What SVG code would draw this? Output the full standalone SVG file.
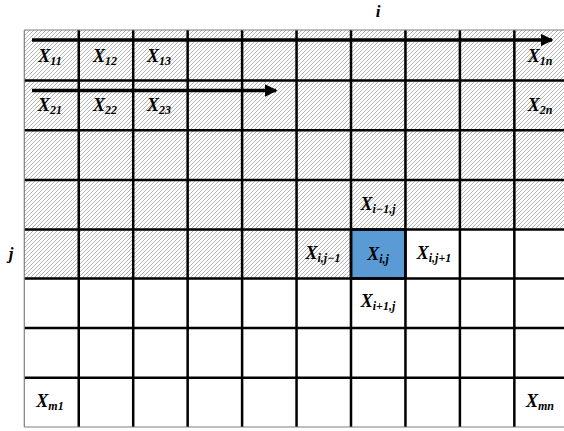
<svg xmlns="http://www.w3.org/2000/svg" width="564" height="431" viewBox="0 0 564 431">
<defs>
<pattern id="hatch" patternUnits="userSpaceOnUse" width="4" height="4">
<rect width="4" height="4" fill="#ffffff"/>
<path d="M-1,1 l2,-2 M0,4 l4,-4 M3,5 l2,-2" stroke="#9a9a9a" stroke-width="0.75"/>
</pattern>
<marker id="arr" viewBox="0 0 10 10" refX="9" refY="5" markerWidth="3.6" markerHeight="3.6" orient="auto" markerUnits="strokeWidth">
<path d="M0,0 L10,5 L0,10 z" fill="#000"/>
</marker>
<style>
.lbl{font-family:"Liberation Serif","DejaVu Serif",serif;font-weight:bold;font-style:italic;font-size:18px;fill:#000;text-anchor:middle}
.sub{font-size:12px}
.ax{font-family:"Liberation Serif","DejaVu Serif",serif;font-weight:bold;font-style:italic;font-size:17px;fill:#000;text-anchor:middle}
.grid{stroke:#000;stroke-width:2.5;fill:none}
.edge{stroke:#7f7f7f;stroke-width:1.2;fill:none}
.conn{stroke:#000;stroke-width:3.5;fill:none}
</style>
</defs>
<rect width="564" height="431" fill="#ffffff"/>
<g id="hatched-region">
<rect x="24.3" y="30" width="540" height="199.5" fill="url(#hatch)"/>
<rect x="24.3" y="229.5" width="326.7" height="49" fill="url(#hatch)"/>
</g>
<g id="cell-current">
<rect x="351" y="229.5" width="54.45" height="49" fill="#5b9bd5" stroke="#000" stroke-width="2.5"/>
<text class="lbl" x="378" y="260">X<tspan class="sub" dy="3">i,j</tspan></text>
</g>
<g id="grid">
<path class="grid" d="M78.75,30V427 M133.2,30V427 M187.65,30V427 M242.1,30V427 M296.55,30V427 M351,30V427 M405.45,30V427 M459.9,30V427 M514.35,30V427"/>
<path class="grid" d="M24.3,80.5H564 M24.3,130.3H564 M24.3,180H564 M24.3,229.5H564 M24.3,278.5H564 M24.3,328H564 M24.3,377.7H564"/>
<path class="edge" d="M24.3,30H564 M24.3,30V427 M24.3,427H564"/>
</g>
<g id="connectors">
<line class="conn" x1="32" y1="40" x2="552" y2="40" marker-end="url(#arr)"/>
<line class="conn" x1="32" y1="90.5" x2="276" y2="90.5" marker-end="url(#arr)"/>
</g>
<g id="axis-i"><text class="ax" x="378" y="17">i</text></g>
<g id="axis-j"><text class="ax" x="11" y="259">j</text></g>
<g id="cell-x11"><text class="lbl" x="50" y="62">X<tspan class="sub" dy="3">11</tspan></text></g>
<g id="cell-x12"><text class="lbl" x="105" y="62">X<tspan class="sub" dy="3">12</tspan></text></g>
<g id="cell-x13"><text class="lbl" x="159" y="62">X<tspan class="sub" dy="3">13</tspan></text></g>
<g id="cell-x1n"><text class="lbl" x="540" y="62">X<tspan class="sub" dy="3">1n</tspan></text></g>
<g id="cell-x21"><text class="lbl" x="50" y="111">X<tspan class="sub" dy="3">21</tspan></text></g>
<g id="cell-x22"><text class="lbl" x="105" y="111">X<tspan class="sub" dy="3">22</tspan></text></g>
<g id="cell-x23"><text class="lbl" x="159" y="111">X<tspan class="sub" dy="3">23</tspan></text></g>
<g id="cell-x2n"><text class="lbl" x="540" y="111">X<tspan class="sub" dy="3">2n</tspan></text></g>
<g id="cell-xim1j"><text class="lbl" x="378" y="210">X<tspan class="sub" dy="3">i−1,j</tspan></text></g>
<g id="cell-xijm1"><text class="lbl" x="323" y="259">X<tspan class="sub" dy="3">i,j−1</tspan></text></g>
<g id="cell-xijp1"><text class="lbl" x="434" y="259">X<tspan class="sub" dy="3">i,j+1</tspan></text></g>
<g id="cell-xip1j"><text class="lbl" x="378" y="307">X<tspan class="sub" dy="3">i+1,j</tspan></text></g>
<g id="cell-xm1"><text class="lbl" x="50" y="407">X<tspan class="sub" dy="3">m1</tspan></text></g>
<g id="cell-xmn"><text class="lbl" x="540" y="407">X<tspan class="sub" dy="3">mn</tspan></text></g>
</svg>
